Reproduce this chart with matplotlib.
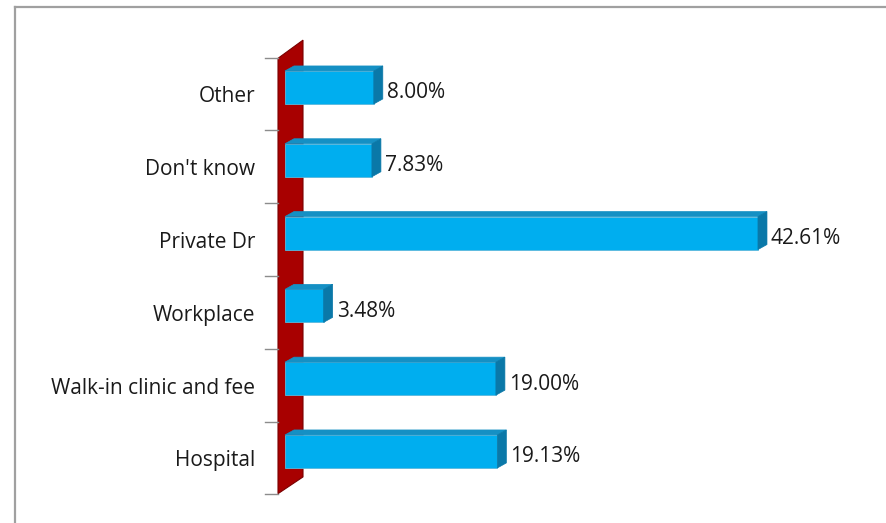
import matplotlib
matplotlib.use("Agg")
import matplotlib.pyplot as plt
from matplotlib.patches import Polygon
from matplotlib.lines import Line2D

categories = ["Hospital", "Walk-in clinic and fee", "Workplace", "Private Dr", "Don't know", "Other"]
values = [19.13, 19.00, 3.48, 42.61, 7.83, 8.00]

W, H = 887, 523
fig = plt.figure(figsize=(W / 100, H / 100), dpi=100)
plt.rcParams['font.family'] = ['Open Sans', 'DejaVu Sans']

# frame
fig.add_artist(Line2D([15 / W, 15 / W], [0, 1 - 7 / H], color="#a0a0a0", lw=1.6))
fig.add_artist(Line2D([15 / W, 1], [1 - 7 / H, 1 - 7 / H], color="#a0a0a0", lw=1.6))

ax = fig.add_axes([285 / W, (523 - 494.4) / H, 555 / W, 436.8 / H])
ax.set_xlim(0, 50)
ax.set_ylim(-0.5, 5.5)
ax.axis("off")

pxx = 50 / 555.0     # data units per px (x)
pxy = 6 / 436.8      # data units per px (y)

# wall
wall = Polygon([(-7 * pxx, -0.49), (-7 * pxx, 5.49), (18 * pxx, 5.74), (18 * pxx, -0.26)],
               closed=True, facecolor="#A80000", edgecolor="#7a0000", lw=0.8, clip_on=False, zorder=1)
ax.add_patch(wall)

# ticks
for k in range(7):
    y = -0.5 + k
    ax.plot([-20 * pxx, -7 * pxx], [y, y], color="#8c8c8c", lw=1.0, clip_on=False, zorder=1)

dx = 9 * pxx
dy = 5 * pxy
bh = 33 * pxy
off = 0.09
for i, (c, v) in enumerate(zip(categories, values)):
    yc = i + off
    y0, y1 = yc - bh / 2, yc + bh / 2
    front = Polygon([(0, y0), (v, y0), (v, y1), (0, y1)], closed=True,
                    facecolor="#00AEEF", edgecolor="#5ab8dc", lw=0.6, clip_on=False, zorder=3)
    top = Polygon([(0, y1), (v, y1), (v + dx, y1 + dy), (dx, y1 + dy)], closed=True,
                  facecolor="#1590C4", edgecolor="#1590C4", lw=0.5, clip_on=False, zorder=3)
    side = Polygon([(v, y0), (v + dx, y0 + dy), (v + dx, y1 + dy), (v, y1)], closed=True,
                   facecolor="#0a78a8", edgecolor="#0a78a8", lw=0.5, clip_on=False, zorder=3)
    for p in (front, top, side):
        ax.add_patch(p)
    ax.text(v + dx + 4 * pxx, i + 0.015, f"{v:.2f}%", ha="left", va="center",
            fontsize=15, color="#1a1a1a", clip_on=False)
    ax.text(-30 * pxx, i - 0.04, c, ha="right", va="center", fontsize=15, color="#1a1a1a", clip_on=False)

fig.savefig("out.png", dpi=100, facecolor="white")
